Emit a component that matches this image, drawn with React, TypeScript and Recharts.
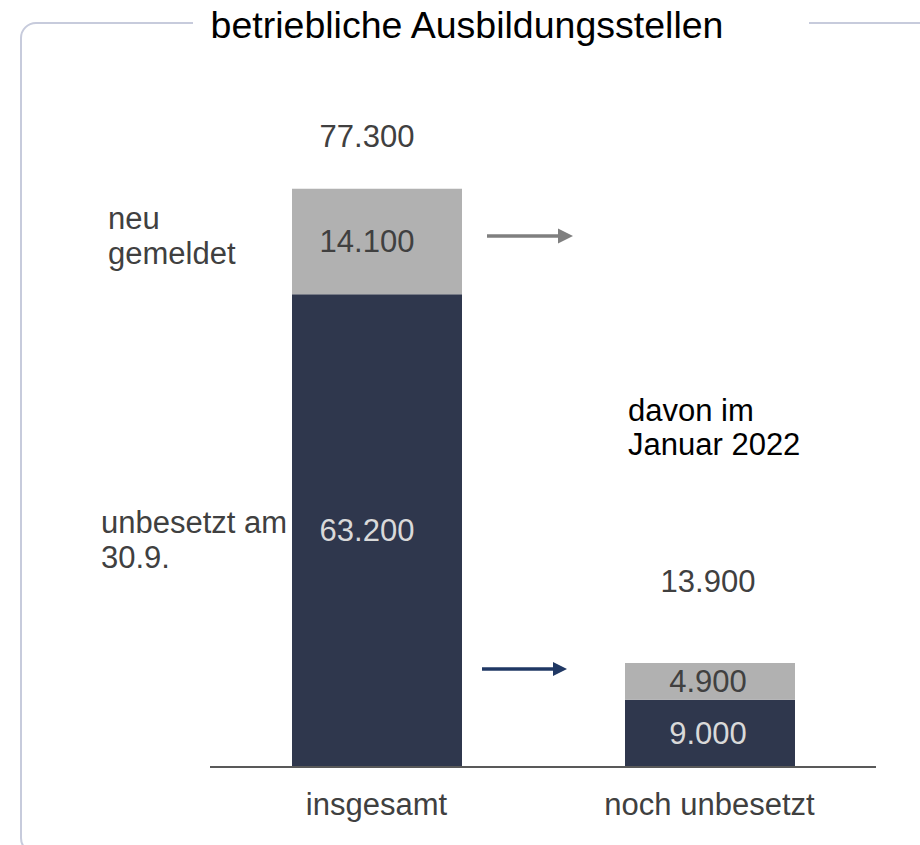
import React from 'react';
import { BarChart, Bar, XAxis, YAxis, LabelList } from 'recharts';

const categories = ['insgesamt', 'noch unbesetzt'];
const unbesetztValues = [63200, 9000];
const neuValues = [14100, 4900];
const totalValues = [77300, 13900];

const data = categories.map((name, i) => ({
  name,
  unbesetzt: unbesetztValues[i],
  neu: neuValues[i],
  total: totalValues[i],
}));

const FONT = '"Liberation Sans", Arial, sans-serif';
const DARK = '#2f374d';
const GRAY = '#b1b1b1';
const TEXT = '#404040';

const fmt = (v: number) => String(v).replace(/\B(?=(\d{3})+(?!\d))/g, '.');

const labelDx = [-10, -2];
const totalGap = [42, 71];

const InnerLabel = (color: string) => (props: any) => {
  const { x, y, width, height, value, index } = props;
  return (
    <text
      x={Number(x) + Number(width) / 2 + labelDx[index]}
      y={Number(y) + Number(height) / 2}
      dominantBaseline="central"
      textAnchor="middle"
      fontSize={31}
      fontFamily={FONT}
      fill={color}
    >
      {fmt(value)}
    </text>
  );
};

const TotalLabel = (props: any) => {
  const { x, y, width, value, index } = props;
  return (
    <text
      x={Number(x) + Number(width) / 2 + labelDx[index]}
      y={Number(y) - totalGap[index]}
      textAnchor="middle"
      fontSize={31}
      fontFamily={FONT}
      fill={TEXT}
    >
      {fmt(value)}
    </text>
  );
};

export default function App() {
  return (
    <div style={{ position: 'absolute', left: 0, top: 0, width: 920, height: 845, background: '#fff', overflow: 'hidden' }}>
      <BarChart
        width={920}
        height={845}
        data={data}
        margin={{ top: 19, right: 44, left: 210, bottom: 18 }}
      >
        <XAxis
          dataKey="name"
          height={60}
          axisLine={{ stroke: '#595959', strokeWidth: 2 }}
          tickLine={false}
          tickMargin={20}
          tick={{ fontSize: 31, fill: TEXT, fontFamily: FONT }}
        />
        <YAxis hide domain={[0, 100000]} />
        <Bar dataKey="unbesetzt" stackId="a" fill={DARK} barSize={170} isAnimationActive={false}>
          <LabelList dataKey="unbesetzt" content={InnerLabel('#d9d9d9')} />
        </Bar>
        <Bar dataKey="neu" stackId="a" fill={GRAY} barSize={170} isAnimationActive={false}>
          <LabelList dataKey="neu" content={InnerLabel(TEXT)} />
          <LabelList dataKey="total" content={TotalLabel} />
        </Bar>
      </BarChart>
      <svg width={920} height={845} style={{ position: 'absolute', left: 0, top: 0, pointerEvents: 'none' }}>
        <path d="M193,23 H36 A15,15 0 0 0 21,38 V838 A15,15 0 0 0 36,853" fill="none" stroke="#c7cbdc" strokeWidth={2} />
        <path d="M809,23 H920" fill="none" stroke="#c7cbdc" strokeWidth={2} />
        <text x={467} y={38} textAnchor="middle" fontSize={37.5} fontFamily={FONT} fill="#000">
          betriebliche Ausbildungsstellen
        </text>
        <g fontSize={31} fontFamily={FONT} fill={TEXT}>
          <text x={108} y={229}>neu</text>
          <text x={108} y={264}>gemeldet</text>
          <text x={101} y={533}>unbesetzt am</text>
          <text x={101} y={568}>30.9.</text>
        </g>
        <g fontSize={31} fontFamily={FONT} fill="#000">
          <text x={628} y={421}>davon im</text>
          <text x={628} y={455}>Januar 2022</text>
        </g>
        <line x1={487} y1={236} x2={559} y2={236} stroke="#7f7f7f" strokeWidth={3.5} />
        <polygon points="558,228.5 573,236 558,243.5" fill="#7f7f7f" />
        <line x1={482} y1={669} x2={554} y2={669} stroke="#203864" strokeWidth={3.5} />
        <polygon points="553,662 567,669 553,676" fill="#203864" />
      </svg>
    </div>
  );
}
